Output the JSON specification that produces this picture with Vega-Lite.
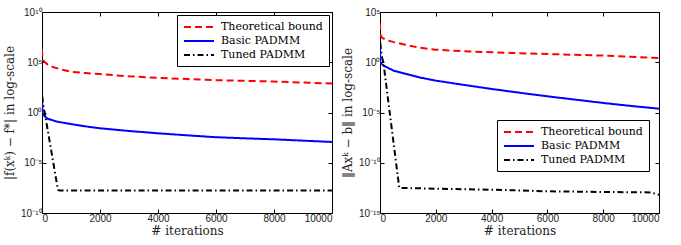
{
  "$schema": "https://vega.github.io/schema/vega-lite/v6.json",
  "padding": {"left": 3, "top": 6, "right": 0, "bottom": 0},
  "bounds": "flush",
  "spacing": 48,
  "resolve": {"scale": {"color": "independent", "strokeDash": "independent"}, "legend": {"color": "independent", "strokeDash": "independent"}},
  "datasets": {
    "left": [
      {"it": 0, "v": 2.0e6, "s": "Theoretical bound"},
      {"it": 10, "v": 3.98e5, "s": "Theoretical bound"},
      {"it": 30, "v": 1.58e5, "s": "Theoretical bound"},
      {"it": 100, "v": 1.0e5, "s": "Theoretical bound"},
      {"it": 200, "v": 5.62e4, "s": "Theoretical bound"},
      {"it": 400, "v": 3.16e4, "s": "Theoretical bound"},
      {"it": 700, "v": 1.78e4, "s": "Theoretical bound"},
      {"it": 1000, "v": 1.12e4, "s": "Theoretical bound"},
      {"it": 1500, "v": 8.32e3, "s": "Theoretical bound"},
      {"it": 2000, "v": 6.61e3, "s": "Theoretical bound"},
      {"it": 3000, "v": 3.98e3, "s": "Theoretical bound"},
      {"it": 4000, "v": 2.82e3, "s": "Theoretical bound"},
      {"it": 5000, "v": 2.14e3, "s": "Theoretical bound"},
      {"it": 6000, "v": 1.66e3, "s": "Theoretical bound"},
      {"it": 7000, "v": 1.41e3, "s": "Theoretical bound"},
      {"it": 8000, "v": 1.20e3, "s": "Theoretical bound"},
      {"it": 9000, "v": 955, "s": "Theoretical bound"},
      {"it": 10000, "v": 776, "s": "Theoretical bound"},
      {"it": 0, "v": 25.1, "s": "Basic PADMM"},
      {"it": 20, "v": 0.83, "s": "Basic PADMM"},
      {"it": 100, "v": 0.398, "s": "Basic PADMM"},
      {"it": 200, "v": 0.24, "s": "Basic PADMM"},
      {"it": 500, "v": 0.126, "s": "Basic PADMM"},
      {"it": 800, "v": 0.089, "s": "Basic PADMM"},
      {"it": 1000, "v": 0.0708, "s": "Basic PADMM"},
      {"it": 1500, "v": 0.0417, "s": "Basic PADMM"},
      {"it": 2000, "v": 0.0269, "s": "Basic PADMM"},
      {"it": 3000, "v": 0.0145, "s": "Basic PADMM"},
      {"it": 4000, "v": 0.00851, "s": "Basic PADMM"},
      {"it": 5000, "v": 0.00537, "s": "Basic PADMM"},
      {"it": 6000, "v": 0.00347, "s": "Basic PADMM"},
      {"it": 7000, "v": 0.00269, "s": "Basic PADMM"},
      {"it": 8000, "v": 0.00214, "s": "Basic PADMM"},
      {"it": 9000, "v": 0.00158, "s": "Basic PADMM"},
      {"it": 10000, "v": 0.00117, "s": "Basic PADMM"},
      {"it": 10, "v": 39.8, "s": "Tuned PADMM"},
      {"it": 50, "v": 3.16, "s": "Tuned PADMM"},
      {"it": 100, "v": 0.794, "s": "Tuned PADMM"},
      {"it": 550, "v": 2.0e-8, "s": "Tuned PADMM"},
      {"it": 600, "v": 1.78e-8, "s": "Tuned PADMM"},
      {"it": 2000, "v": 1.78e-8, "s": "Tuned PADMM"},
      {"it": 4000, "v": 1.78e-8, "s": "Tuned PADMM"},
      {"it": 6000, "v": 1.78e-8, "s": "Tuned PADMM"},
      {"it": 8000, "v": 1.78e-8, "s": "Tuned PADMM"},
      {"it": 10000, "v": 1.78e-8, "s": "Tuned PADMM"}
    ],
    "right": [
      {"it": 0, "v": 7943, "s": "Theoretical bound"},
      {"it": 10, "v": 794, "s": "Theoretical bound"},
      {"it": 30, "v": 398, "s": "Theoretical bound"},
      {"it": 100, "v": 251, "s": "Theoretical bound"},
      {"it": 300, "v": 141, "s": "Theoretical bound"},
      {"it": 500, "v": 100, "s": "Theoretical bound"},
      {"it": 900, "v": 56.2, "s": "Theoretical bound"},
      {"it": 1400, "v": 28.2, "s": "Theoretical bound"},
      {"it": 2000, "v": 17.8, "s": "Theoretical bound"},
      {"it": 3000, "v": 12.6, "s": "Theoretical bound"},
      {"it": 4000, "v": 9.77, "s": "Theoretical bound"},
      {"it": 5000, "v": 7.94, "s": "Theoretical bound"},
      {"it": 6000, "v": 6.61, "s": "Theoretical bound"},
      {"it": 7000, "v": 5.50, "s": "Theoretical bound"},
      {"it": 8000, "v": 4.57, "s": "Theoretical bound"},
      {"it": 9000, "v": 3.55, "s": "Theoretical bound"},
      {"it": 10000, "v": 2.63, "s": "Theoretical bound"},
      {"it": 0, "v": 56.2, "s": "Basic PADMM"},
      {"it": 10, "v": 0.851, "s": "Basic PADMM"},
      {"it": 180, "v": 0.389, "s": "Basic PADMM"},
      {"it": 500, "v": 0.141, "s": "Basic PADMM"},
      {"it": 900, "v": 0.0724, "s": "Basic PADMM"},
      {"it": 1400, "v": 0.0316, "s": "Basic PADMM"},
      {"it": 2000, "v": 0.0148, "s": "Basic PADMM"},
      {"it": 3000, "v": 0.00562, "s": "Basic PADMM"},
      {"it": 4000, "v": 0.00219, "s": "Basic PADMM"},
      {"it": 5000, "v": 0.000933, "s": "Basic PADMM"},
      {"it": 6000, "v": 0.000407, "s": "Basic PADMM"},
      {"it": 7000, "v": 0.000191, "s": "Basic PADMM"},
      {"it": 8000, "v": 0.0000891, "s": "Basic PADMM"},
      {"it": 9000, "v": 0.0000447, "s": "Basic PADMM"},
      {"it": 10000, "v": 0.000024, "s": "Basic PADMM"},
      {"it": 10, "v": 83.2, "s": "Tuned PADMM"},
      {"it": 60, "v": 3.98, "s": "Tuned PADMM"},
      {"it": 120, "v": 1.0, "s": "Tuned PADMM"},
      {"it": 690, "v": 3.16e-13, "s": "Tuned PADMM"},
      {"it": 2000, "v": 2.63e-13, "s": "Tuned PADMM"},
      {"it": 4000, "v": 2.09e-13, "s": "Tuned PADMM"},
      {"it": 6000, "v": 1.45e-13, "s": "Tuned PADMM"},
      {"it": 8000, "v": 1.23e-13, "s": "Tuned PADMM"},
      {"it": 9700, "v": 1.12e-13, "s": "Tuned PADMM"},
      {"it": 10000, "v": 6.31e-14, "s": "Tuned PADMM"}
    ]
  },
  "hconcat": [
    {
      "width": 290,
      "height": 201,
      "data": {"name": "left"},
      "resolve": {"axis": {"x": "independent", "y": "independent"}},
      "layer": [
        {
          "mark": {"type": "line", "strokeWidth": 2, "clip": true},
          "encoding": {
            "x": {"field": "it", "type": "quantitative", "scale": {"domain": [0, 10000], "nice": false},
                  "axis": {"values": [0, 2000, 4000, 6000, 8000, 10000], "format": "d", "title": "# iterations"}},
            "y": {"field": "v", "type": "quantitative", "scale": {"type": "log", "domain": [1e-10, 1e10], "nice": false},
                  "axis": {"values": [1e-10, 1e-5, 1, 1e5, 1e10], "title": "|f(xᵏ) − f*| in log-scale",
                           "labelExpr": "datum.value >= 1e9 ? '10¹⁰' : datum.value >= 1e4 ? '10⁵' : datum.value >= 0.5 ? '10⁰' : datum.value >= 1e-6 ? '10⁻⁵' : '10⁻¹⁰'"}},
            "color": {"field": "s", "type": "nominal",
                      "scale": {"domain": ["Theoretical bound", "Basic PADMM", "Tuned PADMM"], "range": ["#ff0000", "#0000ff", "#000000"]},
                      "legend": {"orient": "none", "legendX": 135, "legendY": 3}},
            "strokeDash": {"field": "s", "type": "nominal",
                      "scale": {"domain": ["Theoretical bound", "Basic PADMM", "Tuned PADMM"], "range": [[7, 4], [1, 0], [6, 3, 1.5, 3]]},
                      "legend": {"orient": "none", "legendX": 135, "legendY": 3}},
            "order": {"field": "it", "type": "quantitative"}
          }
        },
        {
          "mark": {"type": "line", "strokeOpacity": 0},
          "encoding": {
            "x": {"field": "it", "type": "quantitative", "axis": {"orient": "top", "values": [0, 2000, 4000, 6000, 8000, 10000], "labels": false, "title": null}},
            "y": {"field": "v", "type": "quantitative", "axis": {"orient": "right", "values": [1e-10, 1e-5, 1, 1e5, 1e10], "labels": false, "title": null}},
            "detail": {"field": "s"}
          }
        }
      ]
    },
    {
      "width": 279,
      "height": 201,
      "data": {"name": "right"},
      "resolve": {"axis": {"x": "independent", "y": "independent"}},
      "layer": [
        {
          "mark": {"type": "line", "strokeWidth": 2, "clip": true},
          "encoding": {
            "x": {"field": "it", "type": "quantitative", "scale": {"domain": [0, 10000], "nice": false},
                  "axis": {"values": [0, 2000, 4000, 6000, 8000, 10000], "format": "d", "title": "# iterations"}},
            "y": {"field": "v", "type": "quantitative", "scale": {"type": "log", "domain": [1e-15, 1e5], "nice": false},
                  "axis": {"values": [1e-15, 1e-10, 1e-5, 1, 1e5], "title": "‖Axᵏ − b‖ in log-scale",
                           "labelExpr": "datum.value >= 1e4 ? '10⁵' : datum.value >= 0.5 ? '10⁰' : datum.value >= 1e-6 ? '10⁻⁵' : datum.value >= 1e-11 ? '10⁻¹⁰' : '10⁻¹⁵'"}},
            "color": {"field": "s", "type": "nominal",
                      "scale": {"domain": ["Theoretical bound", "Basic PADMM", "Tuned PADMM"], "range": ["#ff0000", "#0000ff", "#000000"]},
                      "legend": {"orient": "none", "legendX": 117, "legendY": 108}},
            "strokeDash": {"field": "s", "type": "nominal",
                      "scale": {"domain": ["Theoretical bound", "Basic PADMM", "Tuned PADMM"], "range": [[7, 4], [1, 0], [6, 3, 1.5, 3]]},
                      "legend": {"orient": "none", "legendX": 117, "legendY": 108}},
            "order": {"field": "it", "type": "quantitative"}
          }
        },
        {
          "mark": {"type": "line", "strokeOpacity": 0},
          "encoding": {
            "x": {"field": "it", "type": "quantitative", "axis": {"orient": "top", "values": [0, 2000, 4000, 6000, 8000, 10000], "labels": false, "title": null}},
            "y": {"field": "v", "type": "quantitative", "axis": {"orient": "right", "values": [1e-15, 1e-10, 1e-5, 1, 1e5], "labels": false, "title": null}},
            "detail": {"field": "s"}
          }
        }
      ]
    }
  ],
  "config": {
    "view": {"stroke": "#000000", "strokeWidth": 1},
    "axis": {
      "grid": false,
      "domain": false,
      "tickColor": "#000000",
      "tickSize": -4,
      "labelFont": "Liberation Sans",
      "labelFontSize": 10,
      "labelColor": "#222222",
      "labelPadding": 4,
      "titleFont": "DejaVu Serif",
      "titleFontSize": 12,
      "titleFontWeight": "normal",
      "titleColor": "#222222"
    },
    "axisX": {"titlePadding": 2},
    "axisY": {"titlePadding": 4},
    "legend": {
      "title": null,
      "strokeColor": "#000000",
      "fillColor": "#ffffff",
      "padding": 6,
      "symbolType": "M-3,0H3",
      "symbolSize": 100,
      "symbolOffset": 10,
      "symbolStrokeWidth": 2,
      "labelFont": "DejaVu Serif",
      "labelFontSize": 11,
      "labelColor": "#000000",
      "labelOffset": 16,
      "rowPadding": 3,
      "cornerRadius": 0
    }
  }
}
